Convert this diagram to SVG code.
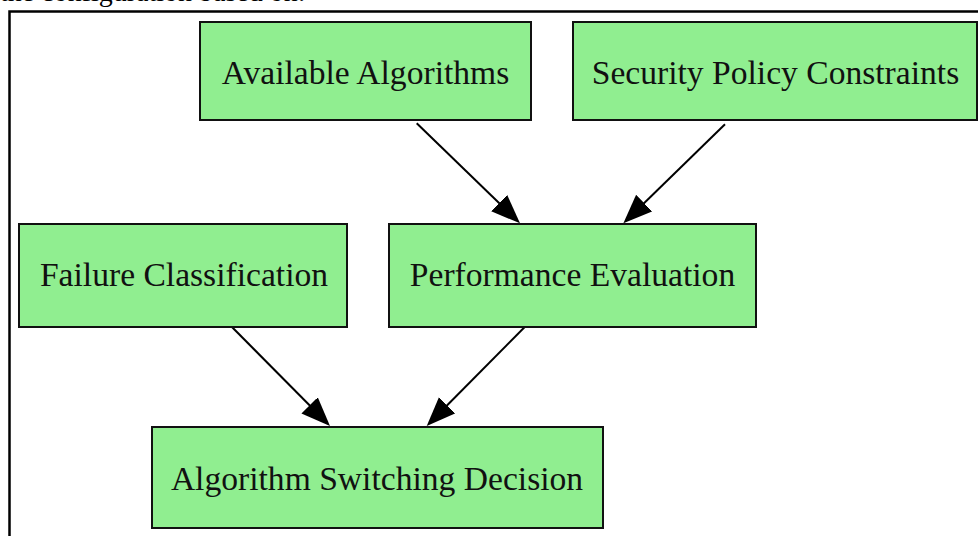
<svg xmlns="http://www.w3.org/2000/svg" width="978" height="536" viewBox="0 0 978 536">
  <style>
    .box { fill: #90ee90; stroke: #111; stroke-width: 2; }
    .lbl { font-family: "Liberation Serif", "Times New Roman", serif; font-size: 33.6px; fill: #111; text-anchor: middle; }
    .edge { stroke: #000; stroke-width: 2; fill: none; marker-end: url(#arrow); }
  </style>
  <defs>
    <marker id="arrow" markerUnits="userSpaceOnUse" markerWidth="30" markerHeight="24" refX="2" refY="11.5" orient="auto">
      <path d="M0,0 L29,11.5 L0,23 z" fill="#000"/>
    </marker>
  </defs>
  <rect width="978" height="536" fill="#fff"/>
  <text x="0" y="1" font-family="Liberation Serif, serif" font-size="28" fill="#000">the configuration based on:</text>
  <path d="M9.5,536 V11.5 H978" fill="none" stroke="#000" stroke-width="2.5"/>

  <g id="connectors">
    <line class="edge" x1="416.7" y1="123.3" x2="500.6" y2="204.5"/>
    <line class="edge" x1="725" y1="124.3" x2="642.7" y2="204.5"/>
    <line class="edge" x1="231.7" y1="326.7" x2="311" y2="406.8"/>
    <line class="edge" x1="525" y1="326.7" x2="445.7" y2="406.8"/>
  </g>

  <g id="available-algorithms">
    <rect class="box" x="200" y="22" width="331" height="98"/>
    <text class="lbl" x="365.5" y="84">Available Algorithms</text>
  </g>
  <g id="security-policy-constraints">
    <rect class="box" x="573" y="22" width="404" height="98"/>
    <text class="lbl" x="775.5" y="84">Security Policy Constraints</text>
  </g>
  <g id="failure-classification">
    <rect class="box" x="19" y="224" width="328" height="103"/>
    <text class="lbl" x="184" y="286">Failure Classification</text>
  </g>
  <g id="performance-evaluation">
    <rect class="box" x="389" y="224" width="367" height="103"/>
    <text class="lbl" x="572.5" y="286">Performance Evaluation</text>
  </g>
  <g id="algorithm-switching-decision">
    <rect class="box" x="152" y="427" width="451" height="101"/>
    <text class="lbl" x="377" y="490">Algorithm Switching Decision</text>
  </g>
</svg>
